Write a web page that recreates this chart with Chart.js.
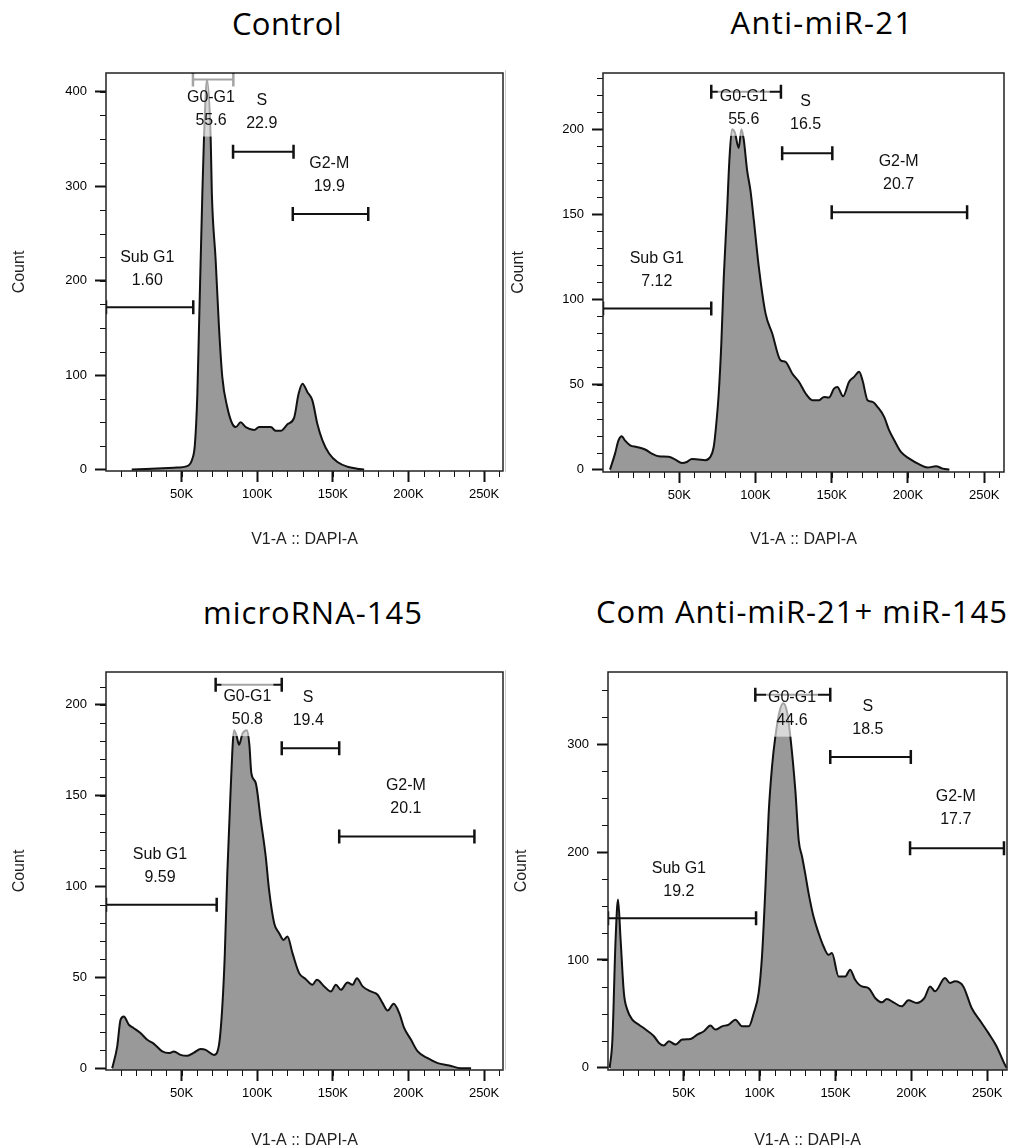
<!DOCTYPE html>
<html>
<head>
<meta charset="utf-8">
<script src="https://cdn.jsdelivr.net/npm/chart.js@4.4.1/dist/chart.umd.min.js"></script>
<style>
html, body { margin: 0; padding: 0; background: #fff; overflow: hidden; width: 1011px; height: 1148px; }
.panel { position: absolute; }
.title { position: absolute; font-family: "Open Sans"; font-size: 31px; line-height: 31px; letter-spacing: 1px; color: #000; text-align: center; white-space: nowrap; width: 460px; }
.sep { position: absolute; left: 505px; width: 1px; background: #cfcfcf; }
</style>
</head>
<body>
<div class="title" style="left:57px;top:8px;letter-spacing:0.4px">Control</div>
<div class="title" style="left:592px;top:7px;letter-spacing:1.3px">Anti-miR-21</div>
<div class="title" style="left:83px;top:597px">microRNA-145</div>
<div class="title" style="left:572px;top:596px">Com Anti-miR-21+ miR-145</div>
<div class="sep" style="top:70px;height:402px"></div>
<div class="sep" style="top:670px;height:400px"></div>
<div class="panel" style="left:0;top:60px;width:510px;height:500px"><canvas id="c1"></canvas></div>
<div class="panel" style="left:505px;top:60px;width:506px;height:500px"><canvas id="c2"></canvas></div>
<div class="panel" style="left:0;top:640px;width:510px;height:520px"><canvas id="c3"></canvas></div>
<div class="panel" style="left:505px;top:640px;width:506px;height:520px"><canvas id="c4"></canvas></div>
<script>
// DAPI channel in K units, counts per bin
const gateNames = ['Sub G1', 'G0-G1', 'S', 'G2-M'];
const xTicks = [50, 100, 150, 200, 250];

// Control
const ctrlX = [17, 45, 54, 57, 58.8, 60.4, 61.5, 63.7, 64.8, 66.8, 69.2, 70, 72.5, 74.7, 76.9, 80.2, 83.5, 85.8, 89, 92.4, 98, 101.2, 109, 112.3, 115.6, 120, 124.4, 127.3, 129.9, 133.2, 136.5, 139.8, 143.1, 147.5, 153, 159.7, 166, 170.7];
const ctrlY = [0, 2, 4, 11, 27, 80, 151, 292, 352, 413, 352, 292, 222, 151, 98, 66, 48.5, 45, 50, 45, 42, 45, 45, 41, 41, 48, 55, 80, 91, 82, 73, 48, 31, 17, 8, 3, 1, 0];
const ctrlYTicks = [0, 100, 200, 300, 400];
const ctrlGateFrom = [0, 57.5, 84, 123.5];
const ctrlGateTo = [57.7, 84.2, 124, 173.4];
const ctrlGateY = [172, 413, 336.7, 270.6];
const ctrlLabelX = [27.3, 69.4, 103, 147.6];
const ctrlLabelY = [225, 394, 390.8, 324.3];
const ctrlPct = ['1.60', '55.6', '22.9', '19.9'];

// Anti-miR-21
const antiX = [4.6, 7.9, 10.1, 12.3, 14.5, 17.8, 22.1, 27.6, 32, 36.4, 43, 47.4, 51.8, 55, 58.3, 62.7, 67.1, 70.4, 72.6, 74.1, 75.9, 77.6, 79.2, 81.4, 82.9, 84.6, 86.5, 89, 90.8, 92.3, 94.5, 96.7, 98.9, 102.2, 106.6, 111, 116.4, 119.7, 124.1, 128.5, 132.9, 137.3, 141.7, 145, 148.2, 151.5, 153.7, 157.5, 161.4, 164.7, 168, 170.2, 173.5, 176.8, 180, 184.4, 187.7, 191, 195.4, 200.9, 207.5, 212.9, 218.4, 222.8, 227.2];
const antiY = [0, 9.4, 17, 19.6, 17, 14.3, 13.3, 11.8, 9.4, 7.8, 7.5, 5.9, 3.9, 4.5, 6.3, 5.9, 5.5, 7.5, 13.3, 25, 44.7, 74, 113, 152.5, 182, 200, 198, 189, 200, 194, 176, 164, 146.7, 119, 91.8, 80, 64.3, 63.3, 56.5, 51.6, 44.7, 40.8, 40.8, 42.7, 42.4, 47.6, 48.6, 43.1, 51.6, 54.5, 57.5, 52.5, 40.8, 39.8, 36.9, 31, 23, 17.3, 10.4, 6.5, 3.1, 1.2, 2, 0.6, 0];
const antiYTicks = [0, 50, 100, 150, 200];
const antiGateFrom = [0, 71, 117.5, 150];
const antiGateTo = [71, 116.7, 150.4, 238.8];
const antiGateY = [94.7, 222, 185.9, 151.2];
const antiLabelX = [35.3, 92.3, 132.9, 193.9];
const antiLabelY = [124, 219, 216.3, 181];
const antiPct = ['7.12', '55.6', '16.5', '20.7'];

// microRNA-145
const mirX = [4.1, 7.4, 9.6, 11.8, 15.1, 18.4, 22.8, 27.3, 31.7, 37.2, 41.6, 44.9, 49.3, 53.8, 58.2, 62.6, 65.9, 71.4, 74.7, 76.9, 78.5, 80.2, 82.4, 84.7, 86.3, 88, 90.2, 93.3, 94.8, 96.1, 99, 102.3, 105.6, 107.8, 111.2, 114.5, 117.4, 120, 123.3, 127.7, 132.1, 136.5, 139.4, 144.3, 148.7, 152, 155.3, 159.7, 163, 165.9, 169.7, 175.2, 179.6, 182.9, 186.2, 190.2, 193.9, 197.2, 201.7, 206.1, 212.7, 219.3, 227, 234.7, 241.4];
const mirY = [0, 11.9, 26.6, 28.4, 23.9, 22, 19.3, 15.6, 13.4, 9.2, 8.3, 9.2, 7.3, 6.8, 8.6, 10.5, 10.1, 7.3, 12.8, 33.9, 61.5, 107, 153, 186, 183, 178, 184, 186, 178, 162.4, 157, 136.7, 116.5, 98.2, 79.8, 74.3, 70.6, 72.5, 63.3, 52.3, 49, 45.9, 48.6, 45, 42.2, 45.9, 43.1, 47.2, 45.9, 49.5, 45, 42.2, 40.4, 35.8, 31.7, 35.4, 30.3, 22, 15.6, 9.2, 5.5, 2.8, 1.5, 0, 0];
const mirYTicks = [0, 50, 100, 150, 200];
const mirGateFrom = [0, 72.5, 116.2, 154.2];
const mirGateTo = [73.2, 116.2, 154.2, 243.6];
const mirGateY = [89.9, 211, 176, 127.5];
const mirLabelX = [35.7, 93.5, 133.7, 198.3];
const mirLabelY = [117.8, 204.2, 203.7, 155.6];
const mirPct = ['9.59', '50.8', '19.4', '20.1'];

// Com Anti-miR-21 + miR-145
const comX = [1.1, 2.9, 5, 6.6, 8.3, 10.5, 12.7, 16, 20.4, 24.8, 30.3, 33.6, 36.8, 40.1, 44.5, 48.9, 54.4, 58.8, 63.2, 67.5, 70.8, 75.2, 79.6, 84, 88.4, 92.8, 96.1, 99.3, 101.5, 103.7, 105.9, 108.1, 110.3, 113, 115.5, 118, 120.2, 123.5, 125.7, 127.9, 130, 132.2, 135.5, 138.8, 142.1, 145.4, 147.6, 152, 156.4, 159.6, 162.9, 167.3, 171.7, 176.1, 180.5, 183.8, 188.2, 193.6, 198, 203.5, 208.6, 212.3, 215.6, 222.1, 225.4, 228.7, 234.2, 239.7, 246.3, 250.7, 256.1, 260.5, 262.7];
const comY = [0, 26, 119, 156, 119, 69, 54, 44.7, 40, 35.5, 29.3, 23.1, 20.7, 24.7, 21.6, 26.2, 26.8, 30.8, 33.9, 39.2, 35.5, 38.5, 40.1, 44.7, 38.5, 38.5, 50.9, 69.4, 103.3, 165, 236, 279, 307, 330, 338, 330, 307, 257, 211, 196, 180, 162, 140, 125, 112.5, 104.8, 106.4, 84.8, 84.8, 91, 81.7, 75.5, 74, 64.8, 60.7, 63.8, 60.7, 57, 62.6, 60.1, 64.8, 75.5, 70.9, 83.3, 78.6, 80.2, 75.5, 55.5, 41.6, 32.4, 20, 6.2, 0];
const comYTicks = [0, 100, 200, 300];
const comGateFrom = [0, 97.1, 146.5, 199.1];
const comGateTo = [97.6, 146.5, 199.6, 261];
const comGateY = [138.8, 346, 288.3, 203.5];
const comLabelX = [46.7, 121.3, 171.3, 229.2];
const comLabelY = [185, 343.2, 335.2, 251.3];
const comPct = ['19.2', '44.6', '18.5', '17.7'];

Chart.defaults.font.family = '"Liberation Sans", Arial, sans-serif';
Chart.defaults.color = '#000';

const LABEL_FONT = '16px "Liberation Sans", Arial, sans-serif';

// gates, FlowJo style label boxes, frame and minor ticks
const flowDecor = {
  id: 'flowDecor',
  afterDatasetsDraw(chart, args, o) {
    const {ctx, chartArea: a, scales: {x, y}} = chart;
    ctx.save();
    ctx.beginPath();
    ctx.rect(a.left, a.top, a.right - a.left, a.bottom - a.top);
    ctx.clip();
    ctx.strokeStyle = '#111';
    for (let i = 0; i < o.from.length; i++) {
      const x1 = x.getPixelForValue(o.from[i]);
      const x2 = x.getPixelForValue(o.to[i]);
      const py = y.getPixelForValue(o.gy[i]);
      ctx.lineWidth = 2;
      ctx.beginPath();
      ctx.moveTo(x1, py); ctx.lineTo(x2, py);
      ctx.stroke();
      ctx.lineWidth = 2.5;
      ctx.beginPath();
      ctx.moveTo(x1, py - 7); ctx.lineTo(x1, py + 7);
      ctx.moveTo(x2, py - 7); ctx.lineTo(x2, py + 7);
      ctx.stroke();
    }
    // semi transparent label backgrounds
    ctx.font = LABEL_FONT;
    ctx.fillStyle = 'rgba(255,255,255,0.62)';
    for (let i = 0; i < o.lx.length; i++) {
      const cx = x.getPixelForValue(o.lx[i]);
      const cy = y.getPixelForValue(o.ly[i]);
      const w = Math.max(ctx.measureText(gateNames[i]).width, ctx.measureText(o.pct[i]).width) + 4;
      ctx.fillRect(cx - w / 2, cy - 24, w, 23 + 40);
    }
    ctx.restore();

    ctx.save();
    ctx.font = LABEL_FONT;
    ctx.fillStyle = '#111';
    ctx.textAlign = 'center';
    ctx.textBaseline = 'middle';
    for (let i = 0; i < o.lx.length; i++) {
      const cx = x.getPixelForValue(o.lx[i]);
      const cy = y.getPixelForValue(o.ly[i]);
      ctx.fillText(gateNames[i], cx, cy);
      ctx.fillText(o.pct[i], cx, cy + 23);
    }
    ctx.restore();
  },
  afterDraw(chart, args, o) {
    const {ctx, chartArea: a, scales: {x, y}} = chart;
    ctx.save();
    ctx.strokeStyle = '#111';
    ctx.lineWidth = 1;
    ctx.beginPath();
    for (let v = o.minorY; v < y.max; v += o.minorY) {
      const py = Math.round(y.getPixelForValue(v)) + 0.5;
      ctx.moveTo(a.left - 6, py); ctx.lineTo(a.left, py);
    }
    for (let v = 10; v < x.max; v += 10) {
      const px = Math.round(x.getPixelForValue(v)) + 0.5;
      ctx.moveTo(px, a.bottom); ctx.lineTo(px, a.bottom + 6);
    }
    ctx.stroke();
    ctx.lineWidth = 1.5;
    ctx.strokeStyle = '#222';
    ctx.strokeRect(a.left, a.top, a.right - a.left, a.bottom - a.top);
    ctx.restore();
  }
};

function makePanel(id, xs, ys, yTicks, yMin, yMax, xMax, minorY, gate, lay) {
  const pts = xs.map((v, i) => ({x: v, y: ys[i]}));
  return new Chart(document.getElementById(id), {
    type: 'line',
    data: {
      datasets: [{
        data: pts,
        borderColor: '#111',
        borderWidth: 2,
        backgroundColor: '#999999',
        fill: 'start',
        pointRadius: 0,
        cubicInterpolationMode: 'monotone'
      }]
    },
    options: {
      responsive: true,
      maintainAspectRatio: false,
      animation: false,
      events: [],
      layout: {padding: {top: lay.top, right: lay.right, left: 0, bottom: 0}},
      scales: {
        x: {
          type: 'linear',
          min: 0,
          max: xMax,
          afterBuildTicks: s => { s.ticks = xTicks.map(v => ({value: v})); },
          afterFit: s => { s.height = lay.xh; s.paddingLeft = 0; s.paddingRight = 0; },
          ticks: {maxRotation: 0, padding: 5, font: {size: 13}, color: '#000', callback: v => v + 'K'},
          grid: {drawOnChartArea: false, tickLength: 11, tickWidth: 2, tickColor: '#111'},
          border: {display: false},
          title: {display: true, text: 'V1-A :: DAPI-A', color: '#222', font: {size: 16}, padding: {top: 0, bottom: lay.xt}}
        },
        y: {
          min: yMin,
          max: yMax,
          afterBuildTicks: s => { s.ticks = yTicks.map(v => ({value: v})); },
          afterFit: s => { s.width = lay.yw; s.paddingTop = 0; s.paddingBottom = 0; },
          ticks: {padding: 8, font: {size: 13}, color: '#000'},
          grid: {drawOnChartArea: false, tickLength: 11, tickWidth: 2, tickColor: '#111'},
          border: {display: false},
          title: {display: true, text: 'Count', color: '#222', font: {size: 16}, padding: {top: lay.yt, bottom: 0}}
        }
      },
      plugins: {
        legend: {display: false},
        tooltip: {enabled: false},
        flowDecor: Object.assign({minorY: minorY}, gate)
      }
    },
    plugins: [flowDecor]
  });
}

makePanel('c1', ctrlX, ctrlY, ctrlYTicks, -1.5, 420, 262.5, 25,
  {from: ctrlGateFrom, to: ctrlGateTo, gy: ctrlGateY, lx: ctrlLabelX, ly: ctrlLabelY, pct: ctrlPct},
  {top: 13, right: 7, yw: 106, xh: 89, xt: 10.4, yt: 10.4});
makePanel('c2', antiX, antiY, antiYTicks, -1.4, 233, 263, 10,
  {from: antiGateFrom, to: antiGateTo, gy: antiGateY, lx: antiLabelX, ly: antiLabelY, pct: antiPct},
  {top: 13, right: 7, yw: 98, xh: 88, xt: 10.4, yt: 3.7});
makePanel('c3', mirX, mirY, mirYTicks, -1, 218, 262.5, 10,
  {from: mirGateFrom, to: mirGateTo, gy: mirGateY, lx: mirLabelX, ly: mirLabelY, pct: mirPct},
  {top: 32, right: 7, yw: 106, xh: 90, xt: 9.4, yt: 9.7});
makePanel('c4', comX, comY, comYTicks, -2, 367, 263, 25,
  {from: comGateFrom, to: comGateTo, gy: comGateY, lx: comLabelX, ly: comLabelY, pct: comPct},
  {top: 32, right: 4, yw: 103, xh: 90, xt: 9.4, yt: 7});
</script>
</body>
</html>
